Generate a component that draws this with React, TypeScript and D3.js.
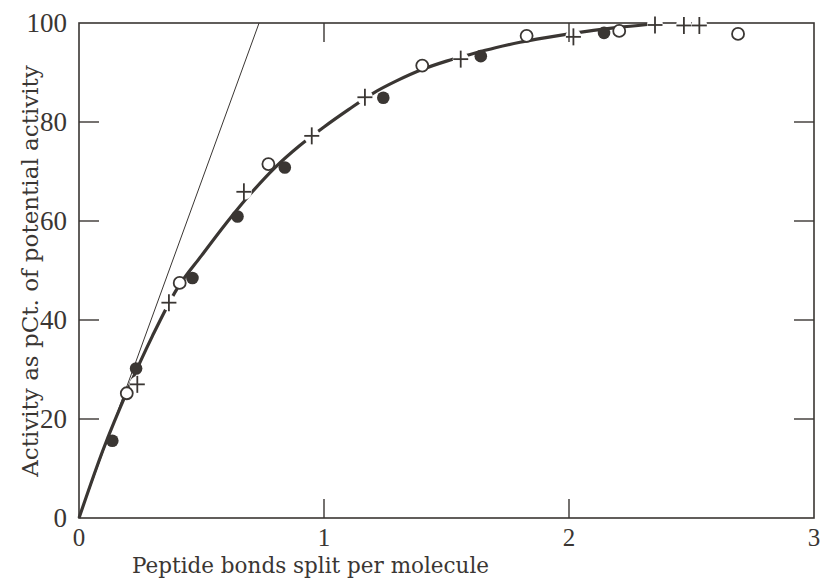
import React from "react";
import * as d3 from "d3";

const xTicks = [0, 1, 2, 3];
const yTicks = [0, 20, 40, 60, 80, 100];

// fitted curve
const curveX = [0, 0.1, 0.2, 0.3, 0.4, 0.5, 0.6, 0.7, 0.8, 0.9, 1.0, 1.1, 1.2, 1.3, 1.4, 1.5, 1.6, 1.7, 1.8, 1.9, 2.0, 2.1, 2.2, 2.32];
const curveY = [0, 14, 26, 36.8, 46.3, 53, 59.5, 65.5, 70.8, 75.2, 79, 82.5, 85.8, 88.4, 90.6, 92.3, 93.7, 95, 96.1, 97, 97.8, 98.5, 99.1, 99.7];

// initial-slope straight line
const lineX = [0, 0.735];
const lineY = [0, 100];

// markers
const crossX = [0.238, 0.367, 0.673, 0.95, 1.167, 1.558, 2.018, 2.351, 2.469, 2.532];
const crossY = [27.0, 43.5, 65.9, 77.2, 85.0, 92.7, 97.2, 99.6, 99.5, 99.5];
const filledX = [0.136, 0.233, 0.463, 0.647, 0.84, 1.242, 1.64, 2.143];
const filledY = [15.6, 30.2, 48.5, 60.9, 70.8, 84.9, 93.3, 98.0];
const openX = [0.195, 0.411, 0.773, 1.401, 1.827, 2.205, 2.69];
const openY = [25.2, 47.5, 71.5, 91.4, 97.4, 98.4, 97.8];

const W = 820, H = 579;
const L = 79, R = 814, T = 23, B = 518;
const INK = "#3a3633";

export default function App() {
  const x = d3.scaleLinear().domain([0, 3]).range([L, R]);
  const y = d3.scaleLinear().domain([0, 100]).range([B, T]);
  const curvePts: [number, number][] = curveX.map((v, i) => [v, curveY[i]]);
  const curvePath = d3.line<[number, number]>().x(d => x(d[0])).y(d => y(d[1])).curve(d3.curveMonotoneX)(curvePts) || "";
  const straight = d3.line<[number, number]>().x(d => x(d[0])).y(d => y(d[1]))(lineX.map((v, i) => [v, lineY[i]] as [number, number])) || "";
  const tickLen = 20;
  const digitFont = "'Liberation Serif', serif";
  const textFont = "'DejaVu Serif', serif";
  return (
    <svg width={W} height={H} style={{ position: "absolute", left: 0, top: 0, background: "#fff" }}>
      <rect x={0} y={0} width={W} height={H} fill="#fff" />
      {/* frame */}
      <rect x={L} y={T} width={R - L} height={B - T} fill="none" stroke={INK} strokeWidth={1.6} />
      {/* straight line */}
      <path d={straight} fill="none" stroke={INK} strokeWidth={1} />
      {/* curve */}
      <path d={curvePath} fill="none" stroke={INK} strokeWidth={3.2} />
      {/* halos around crosses */}
      {crossX.map((v, i) => (
        <circle key={"h" + i} cx={x(v)} cy={y(crossY[i])} r={8} fill="#fff" />
      ))}
      {/* ticks */}
      {yTicks.filter(t => t > 0 && t < 100).map(t => (
        <g key={"yt" + t}>
          <line x1={L} x2={L + tickLen} y1={y(t)} y2={y(t)} stroke={INK} strokeWidth={1.4} />
          <line x1={R - tickLen} x2={R} y1={y(t)} y2={y(t)} stroke={INK} strokeWidth={1.4} />
        </g>
      ))}
      {xTicks.filter(t => t > 0 && t < 3).map(t => (
        <g key={"xt" + t}>
          <line x1={x(t)} x2={x(t)} y1={B} y2={B - 19} stroke={INK} strokeWidth={1.4} />
          <line x1={x(t)} x2={x(t)} y1={T} y2={T + 19} stroke={INK} strokeWidth={1.4} />
        </g>
      ))}
      {/* markers */}
      {filledX.map((v, i) => (
        <circle key={"f" + i} cx={x(v)} cy={y(filledY[i])} r={6.3} fill={INK} />
      ))}
      {openX.map((v, i) => (
        <circle key={"o" + i} cx={x(v)} cy={y(openY[i])} r={6} fill="#fff" stroke={INK} strokeWidth={1.8} />
      ))}
      {crossX.map((v, i) => {
        const cx = x(v), cy = y(crossY[i]);
        return (
          <g key={"c" + i} stroke={INK} strokeWidth={1.8}>
            <line x1={cx - 7.5} x2={cx + 7.5} y1={cy} y2={cy} />
            <line x1={cx} x2={cx} y1={cy - 8.5} y2={cy + 8.5} />
          </g>
        );
      })}
      {/* tick labels */}
      {yTicks.map(t => (
        <text key={"yl" + t} x={L - 12} y={y(t)} dy="0.35em" textAnchor="end" fontFamily={digitFont} fontSize={27} fill={INK}>
          {t}
        </text>
      ))}
      {xTicks.map(t => (
        <text key={"xl" + t} x={x(t)} y={546} textAnchor="middle" fontFamily={digitFont} fontSize={25} fill={INK}>
          {t}
        </text>
      ))}
      {/* axis titles */}
      <text x={132} y={573} textAnchor="start" fontFamily={textFont} fontSize={21.5} fill={INK}>
        Peptide bonds split per molecule
      </text>
      <text transform={`translate(38, 271) rotate(-90)`} textAnchor="middle" fontFamily={textFont} fontSize={23} fill={INK}>
        Activity as pCt. of potential activity
      </text>
    </svg>
  );
}
